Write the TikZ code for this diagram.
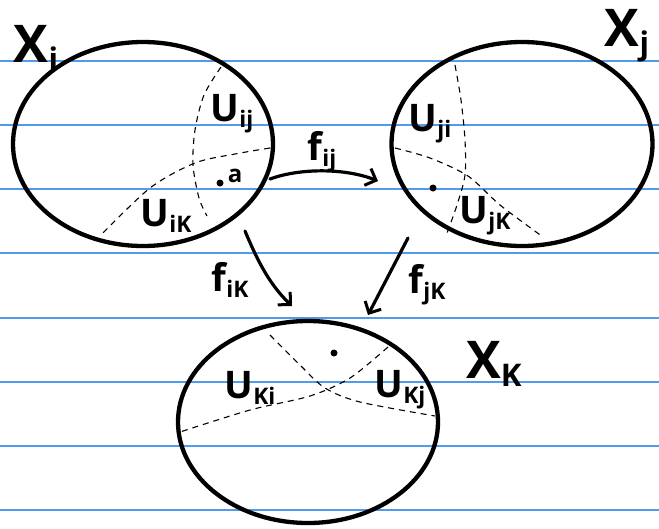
\documentclass[tikz,border=0pt]{standalone}
\usepackage{fontspec}
\setmainfont{Open Sans}
\usetikzlibrary{arrows.meta,shapes.geometric}
\newcommand\lowsub[1]{\raisebox{-0.15em}{\fontsize{0.6em}{0.6em}\selectfont #1}}
\begin{document}
\begin{tikzpicture}[x=1pt,y=-1pt,
  rule/.style={draw={rgb,255:red,80;green,155;blue,235}, line width=1.6pt},
  space/.style={draw, line width=4.3pt, ellipse, inner sep=0pt},
  cut/.style={draw, line width=1.1pt, dash pattern=on 6pt off 5pt},
  map/.style={draw, line width=3.2pt, line cap=round, -{Straight Barb[length=9pt,width=18pt,line width=3pt]}},
  bigl/.style={font=\bfseries\fontsize{52}{52}\selectfont, inner sep=0pt},
  midl/.style={font=\bfseries\fontsize{38}{38}\selectfont, inner sep=0pt},
  pt/.style={circle, fill, inner sep=0pt, minimum size=7pt}]
\useasboundingbox (0,0) rectangle (659,528);
\fill[white] (0,0) rectangle (659,528);
% ruled paper
\foreach \yy in {61,125,189,253,318,382,446,510}
  \draw[rule] (0,\yy) -- (659,\yy);
% spaces
\node[space, minimum width=260pt, minimum height=204pt] (Xi) at (143,144) {};
\node[space, minimum width=261pt, minimum height=204pt] (Xj) at (522,144) {};
\node[space, minimum width=260pt, minimum height=202pt] (Xk) at (308,422) {};
% space labels
\node[bigl] (LXi) at (36,48) {X\lowsub{i}};
\node[bigl] (LXj) at (627,36) {X\lowsub{j}};
\node[bigl] (LXk) at (494,364) {X\lowsub{K}};
% dashed cuts in Xi
\draw[cut] plot[smooth] coordinates {(221,67) (204,95) (195,130) (193,165) (199,198) (207,216)};
\draw[cut] plot[smooth] coordinates {(270,148) (235,154) (195,163) (150,188) (100,236)};
% dashed cuts in Xj
\draw[cut] plot[smooth] coordinates {(455,65) (461,100) (465,140) (465,175) (457,205) (447,233)};
\draw[cut] plot[smooth] coordinates {(395,148) (430,158) (468,176) (500,205) (543,237)};
% dashed cuts in Xk
\draw[cut] plot[smooth] coordinates {(270,335) (300,365) (325,388) (360,402) (435,416)};
\draw[cut] plot[smooth] coordinates {(388,347) (350,378) (310,396) (250,410) (180,432)};
% region labels
\node[midl] (Uij) at (232,114) {U\lowsub{ij}};
\node[midl] (Uik) at (166,216) {U\lowsub{iK}};
\node[midl] (Uji) at (430,124) {U\lowsub{ji}};
\node[midl] (Ujk) at (485,216) {U\lowsub{jK}};
\node[midl] (Uki) at (250,388) {U\lowsub{Ki}};
\node[midl] (Ukj) at (400,390) {U\lowsub{Kj}};
% points
\node[pt] (a) at (220,183) {};
\node[inner sep=0pt, font=\bfseries\fontsize{24}{24}\selectfont] (alab) at (235,176) {a};
\node[pt] (b) at (433,188) {};
\node[pt] (c) at (334,353) {};
% maps
\coordinate (ij0) at (270,179);
\coordinate (ij1) at (378,181);
\coordinate (ik0) at (245,231);
\coordinate (ik1) at (292,306);
\coordinate (jk0) at (408,238);
\coordinate (jk1) at (368,315);
\draw[map] (ij0) .. controls (300,168) and (345,168) .. (ij1);
\draw[map] (ik0) .. controls (258,262) and (270,285) .. (ik1);
\draw[map] (jk0) -- (jk1);
% map labels
\node[midl] (fij) at (322,152) {f\lowsub{ij}};
\node[midl] (fik) at (230,280) {f\lowsub{iK}};
\node[midl] (fjk) at (427,285) {f\lowsub{jK}};
\end{tikzpicture}
\end{document}
